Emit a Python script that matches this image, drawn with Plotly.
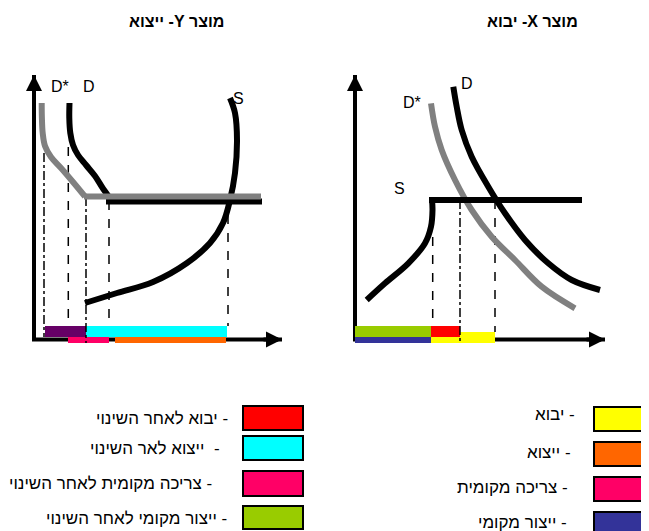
import plotly.graph_objects as go

# Page is drawn on one axis measured in page pixels (x right, y down).
# The html body has an 8px margin, so the figure itself is 8px smaller.
W, H = 649, 531
PAD = 8

# ---- product Y (export), left diagram ----
ly_dstar_x = [41.7, 41.9, 42.7, 45.0, 51.0, 61.0, 73.0, 85.0]
ly_dstar_y = [103.0, 118.0, 133.0, 146.0, 157.0, 168.0, 182.0, 196.5]
ly_world_gray_x = [84.0, 261.0]
ly_world_gray_y = [196.5, 196.5]
ly_d_x = [69.5, 69.3, 70.3, 73.0, 78.0, 86.0, 95.0, 102.0, 109.0]
ly_d_y = [103.0, 118.0, 133.0, 145.0, 155.0, 165.0, 176.0, 187.0, 197.0]
ly_world_black_x = [106.0, 262.0]
ly_world_black_y = [201.5, 201.5]
ly_s_x = [230, 235, 237, 235, 230, 223, 210, 187, 153, 117, 85]
ly_s_y = [98, 113, 140, 173, 200, 223, 243, 263, 282, 293, 303]

# quantity guides: x, top, bottom, dash
ly_guides_x = [44, 68.3, 86, 109, 228]
ly_guides_top = [153, 147, 197, 201, 215]
ly_guides_bot = [337, 326, 343, 326, 326]
ly_guides_dash = ["dashdot", "dash", "dashdot", "dash", "dash"]

# quantity bars: start, end, row (0 = upper, 1 = lower)
ly_bar_start = [45, 86, 68, 115]
ly_bar_end = [86, 227, 109, 226]
ly_bar_row = [0, 0, 1, 1]
ly_bar_color = ["#660066", "#00FFFF", "#FF0066", "#FF6600"]

# ---- product X (import), right diagram ----
rx_d_x = [453.3, 456.7, 461.7, 471.7, 488.3, 505.0, 525.0, 548.3, 571.7, 600.0]
rx_d_y = [86.7, 106.7, 130.0, 156.7, 186.7, 213.3, 240.0, 263.3, 280.0, 290.0]
rx_dstar_x = [431.0, 435.0, 441.7, 455.0, 471.7, 491.7, 515.0, 541.7, 575.0]
rx_dstar_y = [103.3, 126.7, 150.0, 180.0, 210.0, 236.7, 260.0, 286.7, 308.3]
rx_s_x = [366.7, 385.0, 408.3, 425.0, 431.0, 432.5, 432.0]
rx_s_y = [300.0, 283.3, 263.3, 243.3, 226.7, 210.0, 200.0]
rx_world_x = [429.0, 582.0]
rx_world_y = [200.0, 200.0]

rx_guides_x = [432.7, 460, 495]
rx_guides_top = [237, 200, 200]
rx_guides_bot = [326, 342, 332]
rx_guides_dash = ["dash", "dashdot", "dash"]

# start, end, top, bottom
rx_bar_start = [355, 355, 431, 431]
rx_bar_end = [431, 431, 495, 460]
rx_bar_top = [325.7, 336.7, 331.7, 325.7]
rx_bar_bot = [336.7, 342.7, 342.7, 336.7]
rx_bar_color = ["#99CC00", "#333399", "#FFFF00", "#FF0000"]

# ---- legend ----
leg_left_text = ["- יבוא לאחר השינוי", "-  ייצוא לאר השינוי",
                 "- צריכה מקומית לאחר השינוי", "- ייצור מקומי לאחר השינוי"]
leg_left_color = ["#FF0000", "#00FFFF", "#FF0066", "#99CC00"]
leg_right_text = ["- יבוא", "- ייצוא", "- צריכה מקומית", "- ייצור מקומי"]
leg_right_color = ["#FFFF00", "#FF6600", "#FF0066", "#333399"]

title_left = "מוצר Y- ייצוא"
title_right = "מוצר X- יבוא"

FONT = "Arial, 'Liberation Sans', sans-serif"
RLE, PDF = "\u202b", "\u202c"  # right-to-left embedding for the Hebrew texts

fig = go.Figure()


def line(x, y, color="black", width=6, dash="solid", shape="spline"):
    fig.add_trace(go.Scatter(x=x, y=y, mode="lines", hoverinfo="skip",
                             line=dict(color=color, width=width, dash=dash, shape=shape)))


def hbar(x0, x1, y0, y1, color, outline=0):
    fig.add_trace(go.Bar(orientation="h", base=[x0], x=[x1 - x0], y=[(y0 + y1) / 2],
                         width=[y1 - y0],
                         marker=dict(color=color, line=dict(color="black", width=outline)),
                         hoverinfo="skip"))


# axis shafts sit below the bars; arrowheads are annotations
axes = [(34, 341, 34, 75), (32, 339.5, 282, 339.5),
        (355, 341, 355, 75), (353, 339.5, 605, 339.5)]
for x0, y0, x1, y1 in axes:
    fig.add_shape(type="line", x0=x0, y0=y0, x1=x1, y1=y1, xref="x", yref="y",
                  layer="below", line=dict(color="black", width=4))

# guides
for gx, t, b, d in zip(ly_guides_x, ly_guides_top, ly_guides_bot, ly_guides_dash):
    line([gx, gx], [t, b], width=1.5, dash=d, shape="linear")
for gx, t, b, d in zip(rx_guides_x, rx_guides_top, rx_guides_bot, rx_guides_dash):
    line([gx, gx], [t, b], width=1.5, dash=d, shape="linear")

# bars
rows = [(326, 337), (337, 343)]
for s, e, r, c in zip(ly_bar_start, ly_bar_end, ly_bar_row, ly_bar_color):
    hbar(s, e, rows[r][0], rows[r][1], c)
for s, e, t, b, c in zip(rx_bar_start, rx_bar_end, rx_bar_top, rx_bar_bot, rx_bar_color):
    hbar(s, e, t, b, c)

# left curves
line(ly_world_black_x, ly_world_black_y, shape="linear")
line(ly_d_x, ly_d_y)
line(ly_s_x, ly_s_y)
line(ly_dstar_x, ly_dstar_y, color="#808080")
line(ly_world_gray_x, ly_world_gray_y, color="#808080", shape="linear")

# right curves
line(rx_dstar_x, rx_dstar_y, color="#808080")
line(rx_d_x, rx_d_y)
line(rx_s_x, rx_s_y)
line(rx_world_x, rx_world_y, shape="linear")

# legend swatches
leg_left_rows = [(406, 430), (436, 460), (471, 496), (506, 529)]
leg_right_rows = [(407, 431), (442, 466), (477, 501), (512, 536)]
for (t, b), c in zip(leg_left_rows, leg_left_color):
    hbar(243, 303, t, b, c, outline=2)
for (t, b), c in zip(leg_right_rows, leg_right_color):
    hbar(594, 670, t, b, c, outline=2)

ann = []
# arrowheads at the axis tips
for x0, y0, x1, y1 in axes:
    sx = x1 - 20 * (1 if x1 > x0 else 0)
    sy = y1 + 20 * (1 if y1 < y0 else 0)
    ann.append(dict(x=x1, y=y1, ax=sx, ay=sy, xref="x", yref="y", axref="x", ayref="y",
                    text="", showarrow=True, arrowhead=2, arrowsize=0.8, arrowwidth=4,
                    arrowcolor="black", standoff=0))

# curve labels
for txt, x, y in [("D*", 59.7, 86), ("D", 89, 86), ("S", 238, 98),
                  ("D", 467, 83), ("D*", 412, 102), ("S", 399, 188)]:
    ann.append(dict(x=x, y=y, text=txt, showarrow=False, xanchor="center", yanchor="middle",
                    font=dict(family=FONT, size=16, color="black")))

# titles
ann.append(dict(x=176, y=21, text="<b>" + RLE + title_left + PDF + "</b>", showarrow=False,
                font=dict(family=FONT, size=16, color="black")))
ann.append(dict(x=532, y=21, text="<b>" + RLE + title_right + PDF + "</b>", showarrow=False,
                font=dict(family=FONT, size=16, color="black")))

# legend texts
for txt, x, y in zip(leg_left_text, [230, 222, 214, 229], [418, 448, 483, 518]):
    ann.append(dict(x=x, y=y, text=RLE + txt + PDF, showarrow=False, xanchor="right",
                    yanchor="middle", font=dict(family=FONT, size=17, color="black")))
for txt, x, y in zip(leg_right_text, [577, 573, 570, 569], [414, 452, 487, 522]):
    ann.append(dict(x=x, y=y, text=RLE + txt + PDF, showarrow=False, xanchor="right",
                    yanchor="middle", font=dict(family=FONT, size=17, color="black")))

fig.update_layout(
    width=W - PAD, height=H - PAD, autosize=False,
    margin=dict(l=0, r=0, t=0, b=0),
    paper_bgcolor="white", plot_bgcolor="white",
    showlegend=False, barmode="overlay", bargap=0,
    xaxis=dict(range=[PAD, W], visible=False, fixedrange=True),
    yaxis=dict(range=[H, PAD], visible=False, fixedrange=True),
    annotations=ann,
)

fig.write_html("out.html")
